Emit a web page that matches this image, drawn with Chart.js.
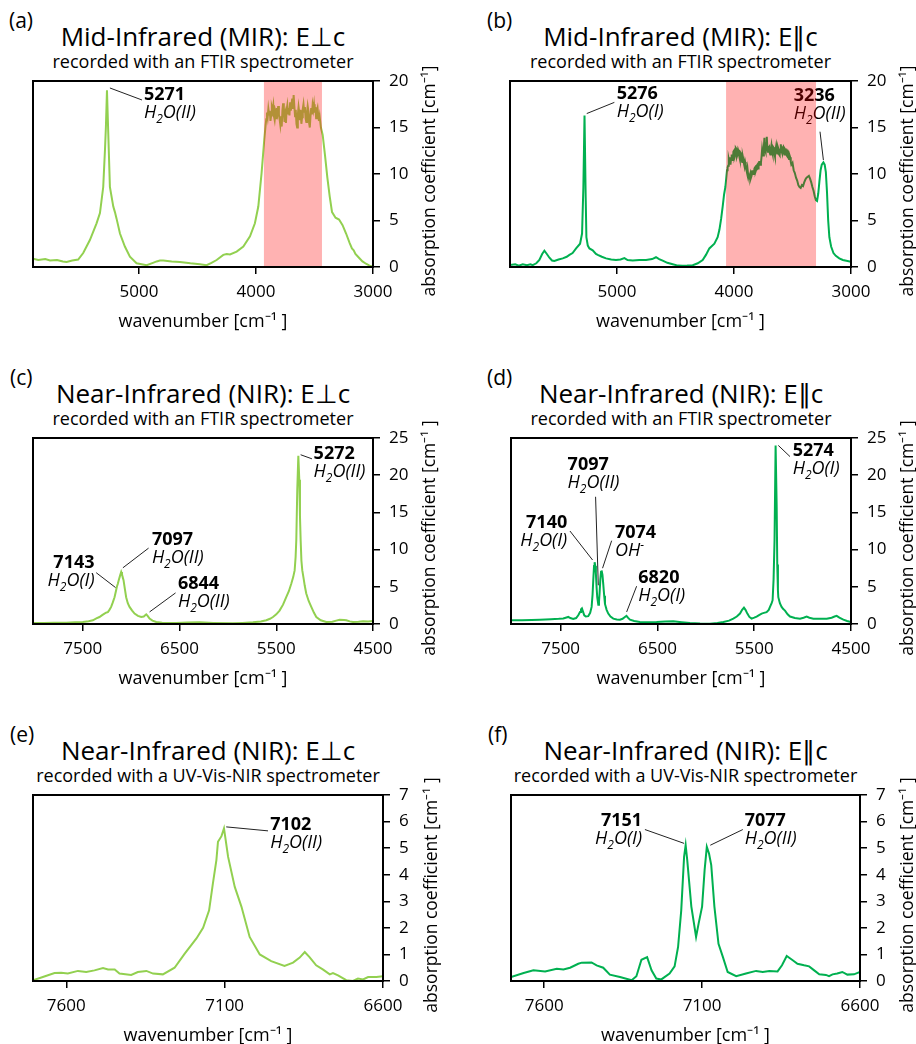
<!DOCTYPE html>
<html>
<head>
<title>MIR / NIR absorption spectra</title>
<script src="https://cdn.jsdelivr.net/npm/chart.js"></script>
<style>
  body { margin: 0; background: #fff; font-family: "Open Sans", sans-serif; color: #000; }
  #fig { position: relative; width: 916px; height: 1044px; overflow: hidden; }
  .tag { position: absolute; font-size: 21px; line-height: 24px; }
  .ttl { position: absolute; font-size: 26px; line-height: 30px; white-space: nowrap; transform: translateX(-50%); }
  .sub { position: absolute; font-size: 18px; line-height: 20px; white-space: nowrap; transform: translateX(-50%); }
  canvas { position: absolute; }
</style>
</head>
<body>
<div id="fig"></div>
<script>
// ---- data (wavenumber in cm-1, absorption coefficient in cm-1) ----
const ticksMIR = [5000, 4000, 3000];
const ticksNIR = [7500, 6500, 5500, 4500];
const ticksUV = [7600, 7100, 6600];

// (a) MIR E⊥c
const wnA = [5905, 5860, 5800, 5760, 5700, 5650, 5618, 5570, 5519, 5476, 5419, 5362, 5333, 5305, 5290, 5282, 5273, 5262, 5248, 5219, 5205, 5191, 5162, 5120, 5077, 5020, 4934, 4880, 4849, 4820, 4792, 4720, 4650, 4560, 4479, 4422, 4380, 4336, 4279, 4250, 4222, 4165, 4108, 4051, 4009, 3980, 3952, 3929, 3918,
  3912, 3906, 3900, 3894, 3888, 3882, 3876, 3870, 3864, 3858,
  3852, 3846, 3840, 3834, 3828, 3822, 3816, 3810, 3804, 3798,
  3792, 3786, 3780, 3774, 3768, 3762, 3756, 3750, 3744, 3738,
  3732, 3726, 3720, 3714, 3708, 3702, 3696, 3690, 3684, 3678,
  3672, 3666, 3660, 3654, 3648, 3642, 3636, 3630, 3624, 3618,
  3612, 3606, 3600, 3594, 3588, 3582, 3576, 3570, 3564, 3558,
  3552, 3546, 3540, 3534, 3528, 3522, 3516, 3510, 3504, 3498,
  3492, 3486, 3480, 3474, 3468, 3462, 3456,
  3445, 3430, 3410, 3390, 3370, 3350, 3320, 3290, 3260, 3230, 3200, 3180, 3165, 3150, 3120, 3090, 3060, 3030, 3000];
const absA = [0.9, 0.75, 0.85, 0.7, 0.75, 0.6, 0.55, 0.7, 0.8, 1.5, 2.9, 4.7, 5.8, 8.6, 12.6, 15.1, 19.0, 14.4, 8.6, 6.5, 5.9, 5.2, 3.6, 2.2, 1.1, 0.4, 0.2, 0.45, 0.6, 0.7, 0.7, 0.6, 0.55, 0.4, 0.3, 0.2, 0.45, 0.75, 1.3, 1.4, 1.35, 1.65, 2.2, 3.3, 4.7, 6.5, 10.1, 13.7, 15.2,
  15.9, 16.6, 16.1, 17.0, 16.4, 16.8, 15.7, 16.3, 17.2, 16.9,
  17.4, 16.2, 15.8, 16.5, 16.0, 17.1, 16.6, 17.3, 16.4, 15.9,
  15.3, 16.2, 15.1, 16.8, 17.6, 16.7, 15.6, 16.3, 15.5, 16.9,
  17.4, 16.5, 17.1, 16.3, 17.7, 16.8, 17.5, 18.1, 17.0, 18.5,
  17.3, 16.2, 16.9, 15.4, 15.0, 16.4, 17.2, 16.6, 15.8, 16.9,
  15.4, 16.1, 17.0, 17.5, 16.7, 17.2, 16.0, 15.6, 16.6, 17.3,
  16.8, 15.5, 15.0, 16.2, 17.1, 16.4, 17.4, 16.9, 17.5, 16.6,
  17.2, 16.0, 16.8, 17.1, 16.3, 15.7, 16.2,
  15.0, 14.2, 12.0, 9.6, 7.6, 5.9, 5.3, 5.1, 4.5, 3.6, 2.6, 2.0, 1.8, 1.4, 1.0, 0.6, 0.35, 0.15, 0.05];

// (b) MIR E||c
const wnB = [5915, 5870, 5840, 5806, 5770, 5740, 5721, 5690, 5664, 5640, 5621, 5600, 5578, 5556, 5536, 5500, 5464, 5430, 5407, 5380, 5350, 5316, 5299, 5288, 5278, 5268, 5262, 5250, 5236, 5208, 5180, 5165, 5130, 5094, 5050, 5009, 4970, 4937, 4910, 4866, 4810, 4752, 4700, 4667, 4640, 4610, 4570, 4524, 4480, 4439, 4400, 4353, 4310, 4268, 4240, 4211, 4168, 4140, 4125, 4110, 4097, 4085, 4074, 4066,
  4060, 4055, 4050, 4045, 4040, 4035, 4030, 4025, 4020, 4015, 4010, 4005, 4000, 3995, 3990, 3985, 3980, 3975, 3970, 3965, 3960, 3955, 3950, 3945, 3940, 3935, 3930, 3925, 3920, 3915, 3910, 3905, 3900, 3895, 3890, 3885, 3880, 3875, 3870, 3865, 3860, 3855, 3850, 3845, 3840, 3835, 3830, 3825, 3820, 3815, 3810, 3805, 3800, 3795, 3790, 3785, 3780, 3775, 3770, 3765, 3760, 3755, 3750, 3745, 3740, 3735, 3730, 3725, 3720, 3715, 3710, 3705, 3700, 3695, 3690, 3685, 3680, 3675, 3670, 3665, 3660, 3655, 3650, 3645, 3640, 3635, 3630, 3625, 3620, 3615, 3610, 3605, 3600, 3595, 3590, 3585, 3580, 3575, 3570, 3565, 3560, 3555, 3550, 3545, 3540, 3535, 3530, 3525, 3520, 3515, 3510, 3500, 3490, 3480, 3470, 3460, 3450, 3440, 3430, 3420, 3410, 3400, 3390, 3380, 3370, 3360, 3350, 3340, 3330, 3320, 3310, 3300,
  3290, 3280, 3270, 3260, 3250, 3236, 3225, 3215, 3205, 3195, 3185, 3170, 3150, 3130, 3100, 3070, 3040, 3000];
const absB = [0.2, 0.3, 0.15, 0.3, 0.2, 0.3, 0.2, 0.4, 0.75, 1.4, 1.75, 1.4, 1.0, 0.7, 0.65, 0.8, 0.93, 1.1, 1.3, 1.5, 2.0, 2.5, 3.6, 8.5, 16.3, 7.5, 3.2, 2.3, 2.0, 1.8, 1.4, 1.3, 1.1, 0.93, 0.8, 0.75, 0.8, 0.95, 0.75, 0.7, 0.75, 0.75, 0.85, 1.05, 0.85, 0.68, 0.45, 0.29, 0.15, 0.14, 0.15, 0.2, 0.4, 0.75, 1.3, 2.0, 2.5, 3.2, 4.0, 5.2, 6.5, 7.8, 8.6, 9.6,
  10.4, 10.7, 10.9, 11.6, 11.3, 11.8, 11.0, 11.7, 12.1, 11.5, 11.6, 12.4, 12.5, 11.8, 12.0, 12.8, 12.7, 11.9, 12.1, 12.6, 12.4, 11.9, 11.6, 12.3, 12.2, 11.5, 11.3, 11.9, 11.6, 11.1, 10.8, 11.3, 11.0, 10.5, 10.2, 10.6, 10.0, 9.7, 9.5, 9.9, 10.1, 9.6, 9.8, 10.3, 10.4, 10.0, 10.1, 10.6, 10.7, 10.3, 10.5, 10.9, 11.0, 10.6, 10.8, 11.3, 11.4, 11.0, 11.2, 11.8, 12.6, 12.1, 12.0, 12.9, 13.9, 12.6, 12.4, 13.3, 14.0, 12.8, 12.3, 12.8, 12.9, 12.3, 12.1, 12.7, 13.1, 12.5, 12.2, 12.9, 12.8, 12.2, 11.9, 12.6, 13.0, 12.4, 12.2, 12.9, 12.7, 12.1, 12.0, 12.6, 13.2, 12.5, 12.3, 12.8, 12.9, 12.3, 12.1, 12.7, 12.6, 12.1, 12.0, 12.5, 12.4, 11.8, 11.6, 12.0, 11.8, 11.3, 11.0, 11.2, 10.4, 10.1, 9.6, 9.3, 8.8, 8.6, 8.5, 8.8, 8.7, 9.1, 9.4, 9.6, 9.7, 9.8, 9.5, 9.1, 8.6, 8.2, 7.6, 7.2,
  7.1, 7.9, 9.2, 10.4, 11.0, 11.25, 11.0, 10.2, 8.0, 5.0, 3.2, 2.2, 1.5, 1.2, 0.93, 0.75, 0.68, 0.57];

// (c) NIR E⊥c, FTIR
const wnC = [8015, 7900, 7800, 7672, 7580, 7500, 7440, 7396, 7360, 7328, 7300, 7276, 7255, 7241, 7225, 7207, 7190, 7172, 7158, 7148, 7138, 7128, 7115, 7103, 7095, 7088, 7079, 7065, 7052, 7035, 7017, 6990, 6965, 6930, 6896, 6870, 6855, 6844, 6830, 6810, 6780, 6741, 6680, 6600, 6534, 6420, 6293, 6150, 5948, 5850, 5741, 5660, 5603, 5565, 5534, 5500, 5466, 5430, 5397, 5370, 5345, 5325, 5310, 5300, 5293, 5283, 5272, 5262, 5255, 5248, 5240, 5231, 5217, 5205, 5190, 5165, 5138, 5110, 5086, 5040, 4983, 4920, 4880, 4845, 4800, 4776, 4740, 4707, 4650, 4603, 4550, 4500];
const absC = [0.13, 0.15, 0.17, 0.18, 0.22, 0.27, 0.38, 0.5, 0.75, 0.94, 1.2, 1.4, 1.55, 1.6, 1.9, 2.3, 2.9, 3.6, 4.4, 5.0, 5.4, 5.9, 6.5, 7.0, 6.7, 6.3, 5.9, 4.7, 3.6, 2.8, 2.3, 1.8, 1.4, 1.1, 0.94, 1.0, 1.17, 1.3, 1.1, 0.72, 0.45, 0.27, 0.18, 0.15, 0.13, 0.2, 0.22, 0.15, 0.09, 0.15, 0.22, 0.35, 0.5, 0.7, 0.94, 1.3, 1.8, 2.6, 3.6, 4.4, 5.4, 6.3, 7.2, 9.0, 11.3, 18.0, 22.6, 19.4, 14.5, 11.3, 8.5, 7.2, 6.1, 5.1, 4.1, 3.1, 2.3, 1.5, 0.94, 0.5, 0.27, 0.3, 0.45, 0.58, 0.55, 0.5, 0.35, 0.27, 0.3, 0.36, 0.35, 0.4];

// (d) NIR E||c, FTIR
const wnD = [8013, 7900, 7800, 7714, 7600, 7520, 7473, 7440, 7421, 7400, 7370, 7340, 7318, 7300, 7290, 7280, 7270, 7256, 7240, 7215, 7195, 7180, 7170, 7163, 7155, 7149, 7142, 7136, 7128, 7122, 7111, 7104, 7098, 7090, 7083, 7077, 7068, 7060, 7050, 7042, 7025, 7008, 6985, 6956, 6920, 6887, 6860, 6836, 6820, 6805, 6784, 6740, 6681, 6600, 6508, 6420, 6336, 6250, 6164, 6060, 5957, 5880, 5819, 5760, 5716, 5680, 5647, 5625, 5606, 5590, 5571, 5550, 5527, 5500, 5475, 5450, 5423, 5400, 5372, 5350, 5337, 5320, 5310, 5300, 5290, 5279, 5268, 5262, 5255, 5251, 5235, 5217, 5200, 5182, 5155, 5130, 5080, 5027, 4990, 4958, 4930, 4889, 4820, 4751, 4700, 4670, 4648, 4620, 4579, 4540, 4500];
const absD = [0.5, 0.52, 0.55, 0.58, 0.65, 0.7, 0.75, 0.88, 0.95, 0.8, 0.67, 0.8, 1.17, 1.6, 1.95, 2.1, 1.7, 1.17, 1.0, 1.05, 1.5, 2.3, 4.0, 5.9, 7.8, 8.3, 7.8, 6.8, 4.8, 3.6, 2.6, 3.0, 4.1, 6.0, 7.0, 7.2, 6.6, 5.4, 3.8, 2.7, 1.9, 1.4, 1.0, 0.72, 0.62, 0.58, 0.7, 0.94, 1.1, 0.85, 0.58, 0.4, 0.27, 0.25, 0.27, 0.35, 0.36, 0.25, 0.13, 0.06, 0.04, 0.12, 0.27, 0.45, 0.72, 1.0, 1.4, 1.9, 2.2, 1.9, 1.4, 0.95, 0.72, 0.85, 1.0, 1.2, 1.4, 1.5, 1.6, 1.9, 2.3, 2.8, 3.2, 6.0, 11.3, 24.0, 15.8, 8.0, 4.5, 3.6, 2.8, 2.3, 2.0, 1.8, 1.3, 1.0, 0.8, 0.72, 0.85, 1.0, 0.85, 0.72, 0.7, 0.72, 0.85, 1.0, 1.1, 0.85, 0.58, 0.4, 0.27];

// (e) NIR E⊥c, UV-Vis-NIR
const wnE = [7705, 7674, 7637, 7616, 7595, 7563, 7537, 7511, 7484, 7468, 7447, 7432, 7395, 7374, 7347, 7326, 7295, 7258, 7226, 7189, 7168, 7149, 7137, 7126, 7121, 7110, 7102, 7089, 7068, 7047, 7021, 6989, 6953, 6911, 6884, 6863, 6847, 6832, 6811, 6789, 6768, 6758, 6742, 6716, 6695, 6679, 6663, 6647, 6621, 6600];
const absE = [0.03, 0.15, 0.3, 0.31, 0.28, 0.38, 0.34, 0.4, 0.49, 0.43, 0.43, 0.28, 0.23, 0.34, 0.38, 0.28, 0.25, 0.5, 1.03, 1.6, 2.0, 2.66, 3.67, 4.55, 5.24, 5.45, 5.74, 4.67, 3.54, 2.8, 1.66, 1.0, 0.75, 0.57, 0.69, 0.88, 1.09, 0.9, 0.59, 0.43, 0.25, 0.3, 0.21, 0.03, 0.0, 0.09, 0.06, 0.15, 0.15, 0.18];

// (f) NIR E||c, UV-Vis-NIR
const wnF = [7705, 7665, 7634, 7597, 7560, 7539, 7518, 7492, 7481, 7450, 7434, 7413, 7392, 7360, 7323, 7308, 7292, 7274, 7260, 7245, 7229, 7203, 7187, 7176, 7166, 7157, 7152, 7147, 7134, 7119, 7111, 7100, 7092, 7085, 7078, 7071, 7061, 7048, 7034, 7019, 6992, 6961, 6929, 6908, 6887, 6861, 6847, 6832, 6813, 6798, 6777, 6761, 6745, 6729, 6708, 6698, 6687, 6672, 6656, 6640, 6619, 6600];
const absF = [0.15, 0.3, 0.4, 0.36, 0.46, 0.43, 0.5, 0.65, 0.69, 0.7, 0.59, 0.5, 0.24, 0.15, 0.03, 0.18, 0.8, 0.9, 0.4, 0.09, 0.06, 0.28, 0.55, 1.28, 2.66, 4.67, 5.11, 4.55, 2.8, 1.66, 2.16, 2.8, 4.17, 5.05, 4.8, 4.36, 2.8, 1.4, 0.9, 0.34, 0.18, 0.28, 0.38, 0.34, 0.38, 0.36, 0.59, 0.94, 0.78, 0.65, 0.59, 0.55, 0.4, 0.25, 0.23, 0.18, 0.25, 0.28, 0.34, 0.24, 0.25, 0.34];

// peak labels: text anchor (wavenumber, value at number baseline) and leader line [wn1, v1, wn2, v2]
const notesA = [{ num: '5271', sp: 'H2O(II)', x: 4957, y: 17.95, line: [4974, 17.96, 5248, 19.25] }];
const notesB = [
  { num: '5276', sp: 'H2O(I)', x: 5003, y: 18.05, line: [5023, 17.7, 5259, 16.5] },
  { num: '3236', sp: 'H2O(II)', x: 3490, y: 17.85, line: [3265, 14.55, 3236, 11.5] }
];
const notesC = [
  { num: '5272', sp: 'H2O(II)', x: 5114, y: 22.2, line: [5131, 22.2, 5248, 22.75] },
  { num: '7097', sp: 'H2O(II)', x: 6786, y: 10.6, line: [6820, 10.2, 7086, 7.55] },
  { num: '7143', sp: 'H2O(I)', x: 7379, y: 7.55, right: true, line: [7362, 6.9, 7162, 4.9] },
  { num: '6844', sp: 'H2O(II)', x: 6517, y: 4.64, line: [6541, 4.18, 6810, 1.62] }
];
const notesD = [
  { num: '5274', sp: 'H2O(I)', x: 5103, y: 22.6, line: [5130, 22.5, 5251, 24.0] },
  { num: '7097', sp: 'H2O(II)', x: 7428, y: 20.7, line: [7139, 17.1, 7111, 5.2] },
  { num: '7140', sp: 'H2O(I)', x: 7432, y: 12.95, right: true, line: [7404, 12.5, 7170, 8.6] },
  { num: '7074', sp: 'OH-', x: 6939, y: 11.5, line: [6973, 11.2, 7067, 7.5] },
  { num: '6820', sp: 'H2O(I)', x: 6698, y: 5.54, line: [6715, 5.08, 6818, 1.62] }
];
const notesE = [{ num: '7102', sp: 'H2O(II)', x: 6956, y: 5.67, line: [6963, 5.65, 7095, 5.8] }];
const notesF = [
  { num: '7151', sp: 'H2O(I)', x: 7290, y: 5.85, right: true, line: [7281, 5.7, 7157, 5.18] },
  { num: '7077', sp: 'H2O(II)', x: 6965, y: 5.85, line: [6971, 5.7, 7074, 5.11] }
];

const shadeA = [3932, 3436];
const shadeB = [4068, 3299];

// ---- layout ----
const LIGHT = '#92d050', DARK = '#00b050';
const FTIR = 'recorded with an FTIR spectrometer';
const UVN = 'recorded with a UV-Vis-NIR spectrometer';
const YT1 = 'absorption coefficient [cm⁻¹]', YT2 = 'absorption coefficient [cm⁻¹ ]';

const panels = [
  { id: 'a', tag: '(a)', tagX: 9, title: 'Mid-Infrared (MIR): E⊥c', sub: FTIR, wn: wnA, ab: absA, color: LIGHT, L: 33, R: 373, T: 81, xMin: 3000, xMax: 5905, xt: ticksMIR, yMax: 20, yStep: 5, notes: notesA, shade: shadeA, yt: YT1, ytOff: 57 },
  { id: 'b', tag: '(b)', tagX: 487, title: 'Mid-Infrared (MIR): E∥c', sub: FTIR, wn: wnB, ab: absB, color: DARK, L: 510, R: 851, T: 81, xMin: 3000, xMax: 5915, xt: ticksMIR, yMax: 20, yStep: 5, notes: notesB, shade: shadeB, yt: YT1, ytOff: 57 },
  { id: 'c', tag: '(c)', tagX: 10, title: 'Near-Infrared (NIR): E⊥c', sub: FTIR, wn: wnC, ab: absC, color: LIGHT, L: 33, R: 373, T: 438, xMin: 4500, xMax: 8015, xt: ticksNIR, yMax: 25, yStep: 5, notes: notesC, yt: YT2, ytOff: 57 },
  { id: 'd', tag: '(d)', tagX: 487, title: 'Near-Infrared (NIR): E∥c', sub: FTIR, wn: wnD, ab: absD, color: DARK, L: 511, R: 851, T: 438, xMin: 4500, xMax: 8013, xt: ticksNIR, yMax: 25, yStep: 5, notes: notesD, yt: YT2, ytOff: 57 },
  { id: 'e', tag: '(e)', tagX: 10, title: 'Near-Infrared (NIR): E⊥c', sub: UVN, wn: wnE, ab: absE, color: LIGHT, L: 33, R: 383, T: 795, xMin: 6600, xMax: 7705, xt: ticksUV, yMax: 7, yStep: 1, notes: notesE, yt: YT2, ytOff: 49 },
  { id: 'f', tag: '(f)', tagX: 488, title: 'Near-Infrared (NIR): E∥c', sub: UVN, wn: wnF, ab: absF, color: DARK, L: 511, R: 860, T: 795, xMin: 6600, xMax: 7705, xt: ticksUV, yMax: 7, yStep: 1, notes: notesF, yt: YT2, ytOff: 48 }
];

const PLOT_H = 186, PAD_L = 10, PAD_T = 30, XAX_H = 70, YAX_W = 75;

Chart.defaults.font.family = '"Open Sans", sans-serif';
Chart.defaults.color = '#000';

// split "H2O(II)" into H, subscript 2, O(II); "OH-" into OH, superscript -
function chemParts(s) {
  if (s.startsWith('H2O')) return [['H', 0], ['2', 1], [s.slice(2), 0]];
  if (s.endsWith('-')) return [[s.slice(0, -1), 0], ['-', -1]];
  return [[s, 0]];
}

function drawChem(ctx, s, x, y, right) {
  const parts = chemParts(s);
  const big = 'italic 18px "Open Sans"', small = 'italic 12px "Open Sans"';
  let w = 0;
  parts.forEach(p => { ctx.font = p[1] ? small : big; w += ctx.measureText(p[0]).width; });
  let cx = right ? x - w : x;
  ctx.textAlign = 'left';
  parts.forEach(p => {
    ctx.font = p[1] ? small : big;
    ctx.fillText(p[0], cx, y + (p[1] === 1 ? 5 : p[1] === -1 ? -7 : 0));
    cx += ctx.measureText(p[0]).width;
  });
}

function makeOverlay(p) {
  return {
    id: 'overlay' + p.id,
    afterDatasetsDraw(chart) {
      const { ctx, chartArea: a } = chart;
      const x = chart.scales.x, y = chart.scales.y;
      ctx.save();
      ctx.fillStyle = '#000';
      ctx.textBaseline = 'alphabetic';
      p.notes.forEach(n => {
        ctx.strokeStyle = '#222';
        ctx.lineWidth = 1;
        ctx.beginPath();
        ctx.moveTo(x.getPixelForValue(n.line[0]), y.getPixelForValue(n.line[1]));
        ctx.lineTo(x.getPixelForValue(n.line[2]), y.getPixelForValue(n.line[3]));
        ctx.stroke();
        const tx = x.getPixelForValue(n.x), ty = y.getPixelForValue(n.y);
        ctx.font = 'bold 18px "Open Sans"';
        ctx.textAlign = n.right ? 'right' : 'left';
        ctx.fillText(n.num, tx, ty);
        drawChem(ctx, n.sp, tx, ty + 18, n.right);
      });
      if (p.shade) {
        const x1 = x.getPixelForValue(p.shade[0]), x2 = x.getPixelForValue(p.shade[1]);
        ctx.fillStyle = 'rgba(255,0,0,0.3)';
        ctx.fillRect(x1, a.top, x2 - x1, a.bottom - a.top);
      }
      ctx.strokeStyle = '#000';
      ctx.lineWidth = 2;
      ctx.strokeRect(a.left, a.top, a.right - a.left, a.bottom - a.top);
      ctx.translate(a.right + p.ytOff, (a.top + a.bottom) / 2 + 7);
      ctx.rotate(-Math.PI / 2);
      ctx.font = '17.5px "Open Sans"';
      ctx.textAlign = 'center';
      ctx.textBaseline = 'middle';
      ctx.fillStyle = '#000';
      ctx.fillText(p.yt, 0, 0);
      ctx.restore();
    }
  };
}

const fig = document.getElementById('fig');

panels.forEach(p => {
  const rowTop = p.T - 81;
  const cx = (p.L + p.R) / 2;

  const tag = document.createElement('div');
  tag.className = 'tag';
  tag.textContent = p.tag;
  tag.style.left = p.tagX + 'px';
  tag.style.top = (rowTop + 8) + 'px';
  fig.appendChild(tag);

  const ttl = document.createElement('div');
  ttl.className = 'ttl';
  ttl.textContent = p.title;
  ttl.style.left = cx + 'px';
  ttl.style.top = (rowTop + 21) + 'px';
  fig.appendChild(ttl);

  const sub = document.createElement('div');
  sub.className = 'sub';
  sub.textContent = p.sub;
  sub.style.left = cx + 'px';
  sub.style.top = (rowTop + 51) + 'px';
  fig.appendChild(sub);

  const cv = document.createElement('canvas');
  cv.width = (p.R - p.L) + PAD_L + YAX_W;
  cv.height = PLOT_H + PAD_T + XAX_H;
  cv.style.left = (p.L - PAD_L) + 'px';
  cv.style.top = (p.T - PAD_T) + 'px';
  fig.appendChild(cv);

  const pts = p.wn.map((w, i) => ({ x: w, y: p.ab[i] }));

  new Chart(cv.getContext('2d'), {
    type: 'line',
    data: { datasets: [{ data: pts, borderColor: p.color, borderWidth: 2, pointRadius: 0, tension: 0 }] },
    options: {
      responsive: false,
      animation: false,
      layout: { padding: { left: PAD_L, top: PAD_T, right: 0, bottom: 0 } },
      plugins: { legend: { display: false }, tooltip: { enabled: false } },
      scales: {
        x: {
          type: 'linear',
          reverse: true,
          min: p.xMin,
          max: p.xMax,
          afterBuildTicks: s => { s.ticks = p.xt.map(v => ({ value: v })); },
          afterFit: s => { s.height = XAX_H; },
          border: { display: false },
          grid: { drawOnChartArea: false, color: '#000', lineWidth: 1.5, tickLength: 7 },
          ticks: { font: { size: 17 }, color: '#000', padding: 8, maxRotation: 0, autoSkip: false, callback: v => String(v) },
          title: { display: true, text: 'wavenumber [cm⁻¹ ]', font: { size: 18 }, color: '#000', padding: { top: 0, bottom: 4 } }
        },
        y: {
          position: 'right',
          min: 0,
          max: p.yMax,
          afterFit: s => { s.width = YAX_W; },
          border: { display: false },
          grid: { drawOnChartArea: false, color: '#000', lineWidth: 1.5, tickLength: 7 },
          ticks: { stepSize: p.yStep, font: { size: 17 }, color: '#000', padding: 9 }
        }
      }
    },
    plugins: [makeOverlay(p)]
  });
});
</script>
</body>
</html>
